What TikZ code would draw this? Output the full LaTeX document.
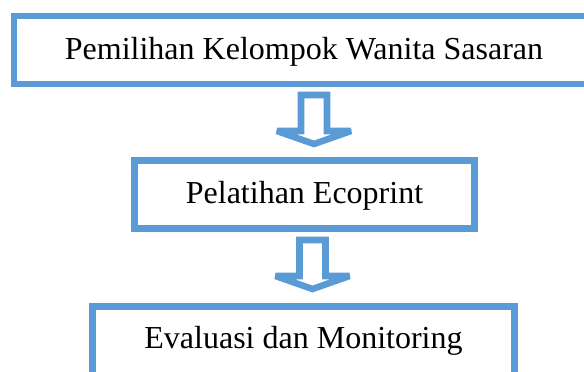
\documentclass[tikz,border=0pt]{standalone}
\usepackage{fontspec}
\setmainfont{Liberation Serif}
\definecolor{boxblue}{HTML}{5B9BD5}
\begin{document}
\begin{tikzpicture}[x=0.75pt,y=-0.75pt,
  stagebox/.style={draw=boxblue, line width=4.9pt, fill=white, inner sep=0pt,
    text height=16.5pt, text depth=3pt,
    font=\fontsize{24}{28}\selectfont},
  stagetext/.style={inner sep=0pt, text height=16.5pt, text depth=3pt,
    font=\fontsize{24}{28}\selectfont},
  blockarrow/.style={draw=boxblue, line width=4.9pt, fill=white, line join=miter, miter limit=4},
  pics/downarrow/.style={code={
    \path[blockarrow] (-13,0) -- (13,0) -- (13,36) -- (37,36) -- (0,49) -- (-37,36) -- (-13,36) -- cycle;
  }}]
\useasboundingbox (0,0) rectangle (584,371);
\clip (0,0) rectangle (584,371);
\node[stagebox, minimum width=620*0.75pt, minimum height=68*0.75pt,
  label={[stagetext, xshift=-20*0.75pt]center:Pemilihan Kelompok Wanita Sasaran}] (b1) at (324,50) {};
\node[stagebox, minimum width=340*0.75pt, minimum height=68*0.75pt] (b2) at (304.5,194.5) {Pelatihan Ecoprint};
\node[stagebox, text depth=13.5pt, minimum width=422*0.75pt, minimum height=80*0.75pt] (b3) at (303.5,346.5) {Evaluasi dan Monitoring};
\coordinate (a1) at (314,95);
\coordinate (a2) at (312.5,240);
\pic at (a1) {downarrow};
\pic at (a2) {downarrow};
\end{tikzpicture}
\end{document}
